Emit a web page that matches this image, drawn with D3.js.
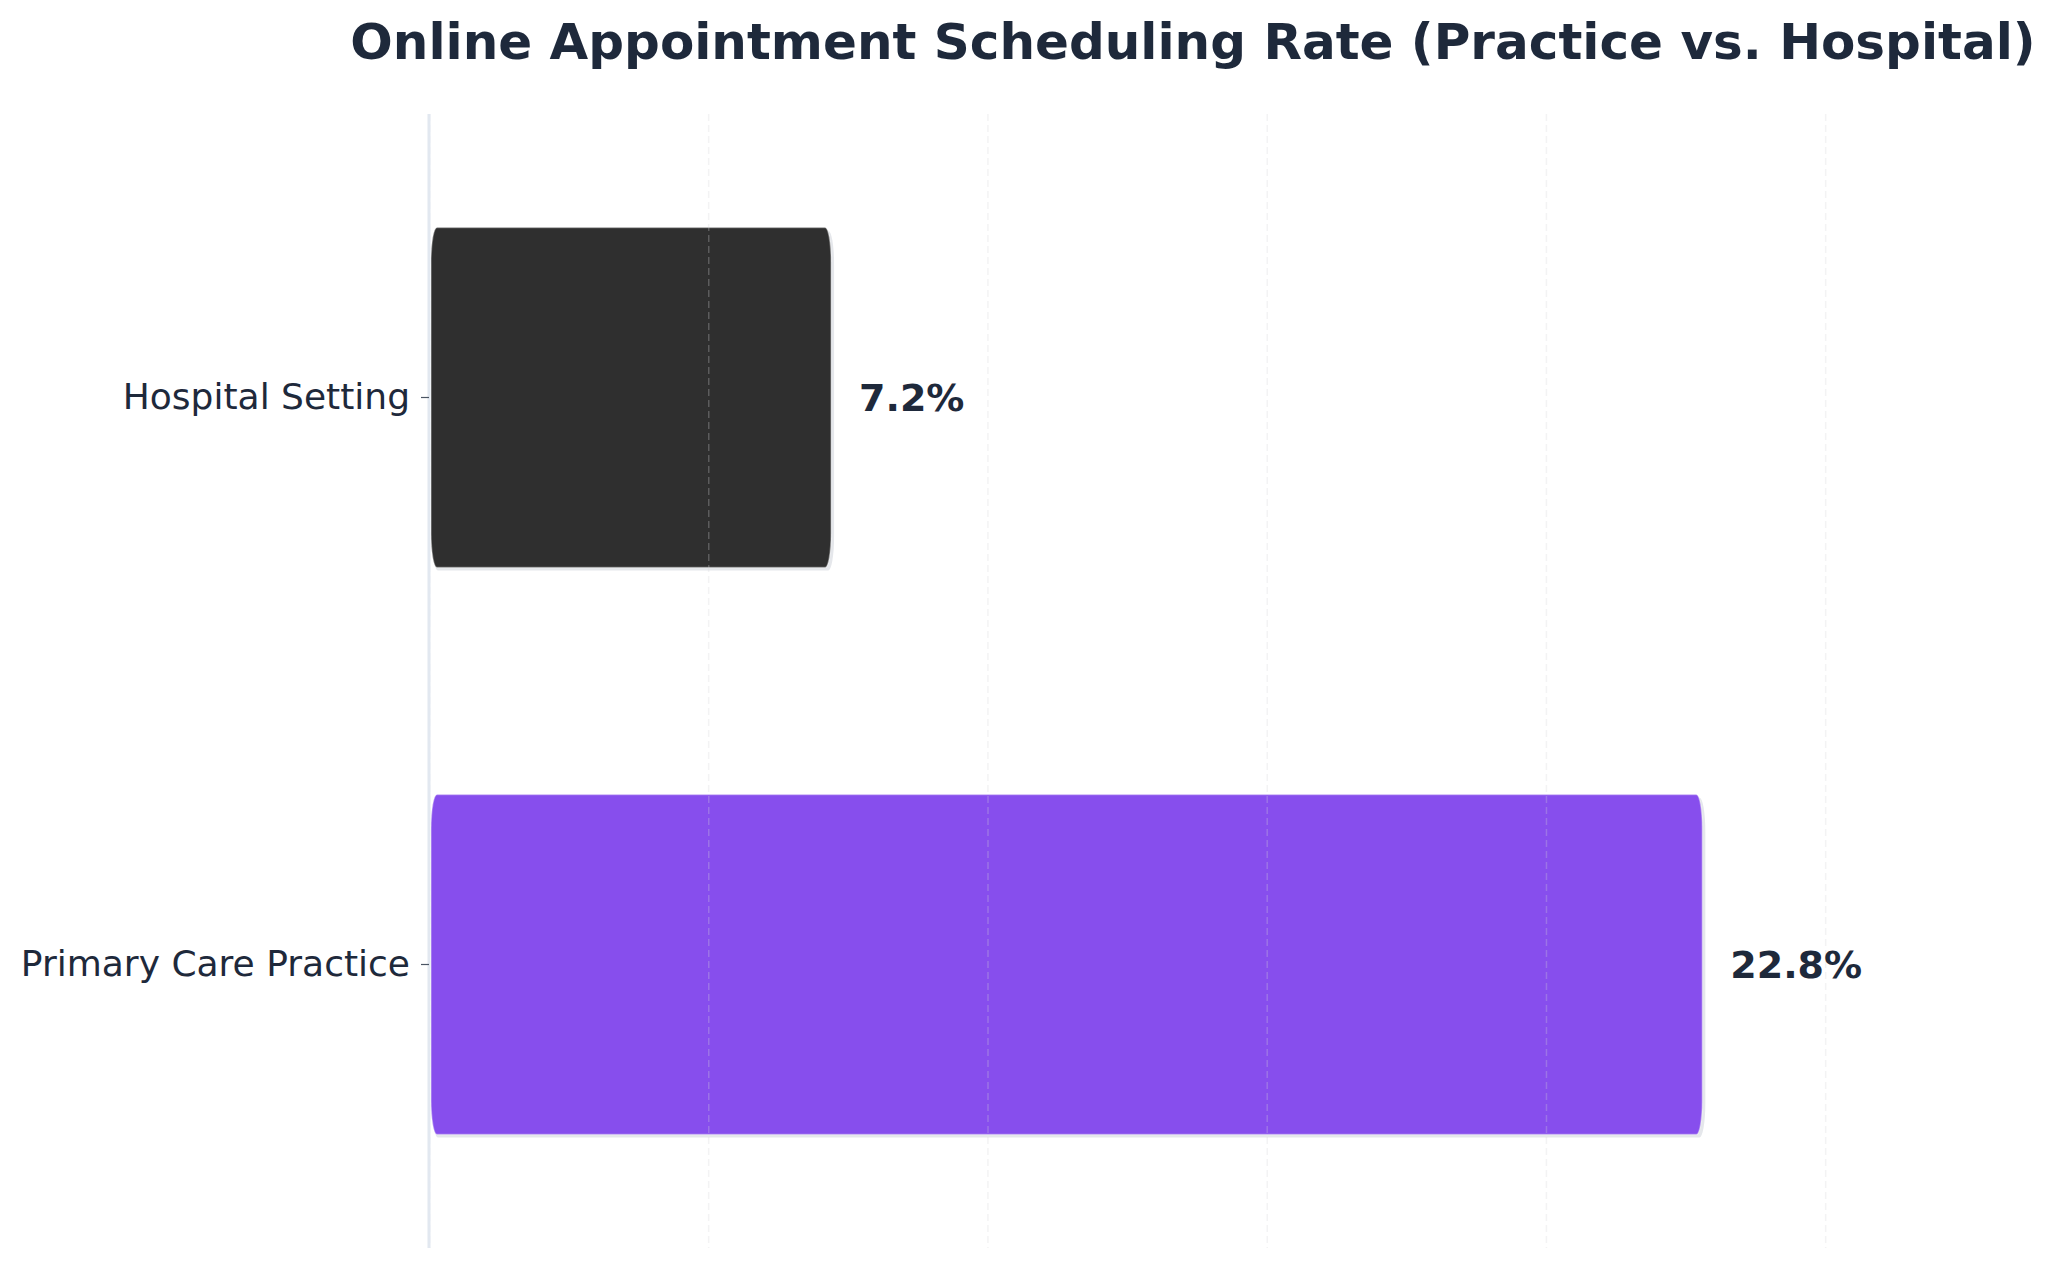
<!DOCTYPE html>
<html>
<head>
<meta charset="utf-8">
<script src="https://cdn.jsdelivr.net/npm/d3@7"></script>
<style>
  body { margin: 0; background: #fff; }
  svg { display: block; font-family: "DejaVu Sans", sans-serif; }
</style>
</head>
<body>
<div id="chart"></div>
<script>
// data
var categories = ["Hospital Setting", "Primary Care Practice"];
var rates = [7.2, 22.8];
var gridTicks = [0, 5, 10, 15, 20, 25];

var barColor = { "Hospital Setting": "#2f2f2f", "Primary Care Practice": "#874eed" };

var W = 2057, H = 1268;
var margin = { top: 114, right: 100, bottom: 20, left: 429 };
var plotW = 1957 - margin.left,
    plotH = 1248 - margin.top;

var svg = d3.select("#chart").append("svg")
  .attr("width", W)
  .attr("height", H);

var g = svg.append("g")
  .attr("transform", "translate(" + margin.left + "," + margin.top + ")");

var x = d3.scaleLinear()
  .domain([0, d3.max(rates) * 1.2])
  .range([0, plotW]);

var y = d3.scaleBand()
  .domain(categories)
  .range([0, plotH])
  .paddingInner(0.4)
  .paddingOuter(0.2);

var rows = categories.map(function(c, i) { return { cat: c, value: rates[i] }; });

// shadows
g.append("g").selectAll("rect")
  .data(rows)
  .enter().append("rect")
  .attr("x", x(0) + 3)
  .attr("y", function(d) { return y(d.cat) + 3; })
  .attr("width", function(d) { return x(d.value) - x(0); })
  .attr("height", y.bandwidth())
  .attr("rx", 6).attr("ry", 34)
  .attr("fill", "#e5e7eb");

// bars
g.append("g").selectAll("rect")
  .data(rows)
  .enter().append("rect")
  .attr("x", x(0) + 2)
  .attr("y", function(d) { return y(d.cat); })
  .attr("width", function(d) { return x(d.value) - x(0) - 2; })
  .attr("height", y.bandwidth())
  .attr("rx", 6).attr("ry", 34)
  .attr("fill", function(d) { return barColor[d.cat]; })
  .attr("stroke", "#ffffff")
  .attr("stroke-opacity", 0.35)
  .attr("stroke-width", 1.5);

// dashed grid on top of bars
var grid = g.append("g")
  .call(d3.axisBottom(x).tickValues(gridTicks).tickSize(plotH).tickFormat(""));
grid.select(".domain").remove();
grid.selectAll("line")
  .attr("stroke", "#d4d4d8")
  .attr("stroke-opacity", 0.28)
  .attr("stroke-width", 1.5)
  .attr("stroke-dasharray", "7,4");

// left spine
g.append("line")
  .attr("x1", 0).attr("x2", 0)
  .attr("y1", 0).attr("y2", plotH)
  .attr("stroke", "#e2e8f0")
  .attr("stroke-width", 3);

// y axis
var yAxis = g.append("g")
  .call(d3.axisLeft(y).tickSize(8).tickPadding(11));
yAxis.select(".domain").remove();
yAxis.selectAll("line").attr("stroke", "#4b5563").attr("stroke-width", 1.2);
yAxis.selectAll("text")
  .attr("fill", "#1e293b")
  .style("font-size", "36px")
  .style("font-family", "DejaVu Sans");

// value labels
g.append("g").selectAll("text")
  .data(rows)
  .enter().append("text")
  .attr("x", function(d) { return x(d.value + 0.5); })
  .attr("y", function(d) { return y(d.cat) + y.bandwidth() / 2; })
  .attr("dy", "0.36em")
  .attr("fill", "#1e293b")
  .style("font-size", "38px")
  .style("font-weight", "bold")
  .text(function(d) { return d.value.toFixed(1) + "%"; });

// title
svg.append("text")
  .attr("x", margin.left + plotW / 2)
  .attr("y", 59)
  .attr("text-anchor", "middle")
  .attr("fill", "#1e293b")
  .style("font-size", "50px")
  .style("font-weight", "bold")
  .text("Online Appointment Scheduling Rate (Practice vs. Hospital)");
</script>
</body>
</html>
